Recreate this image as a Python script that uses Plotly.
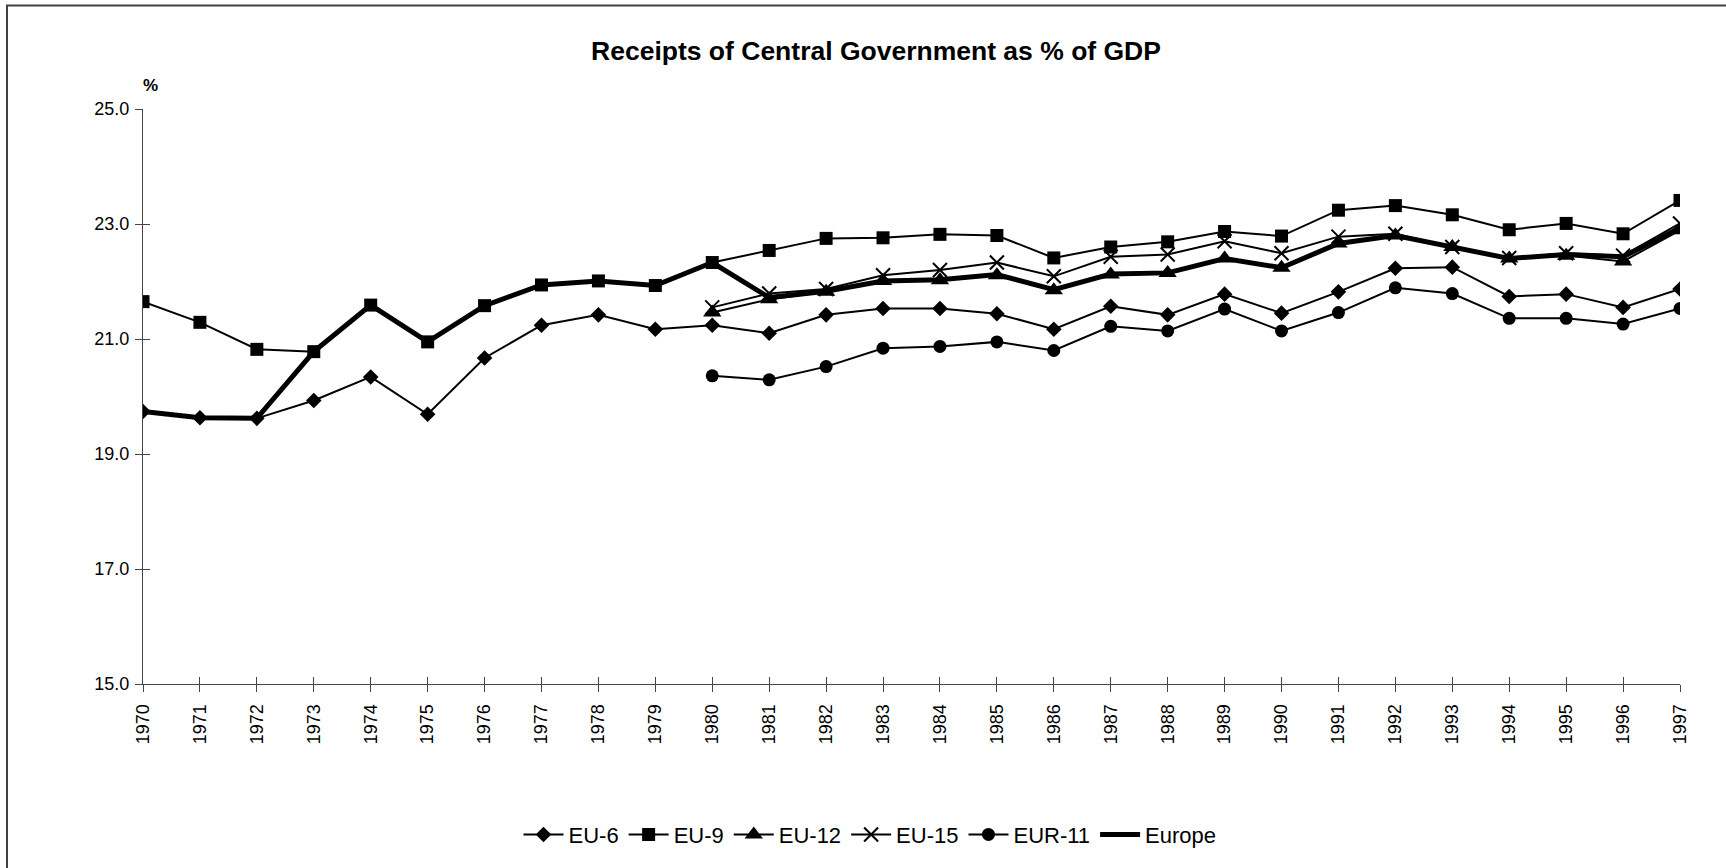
import plotly.graph_objects as go

years = list(range(1970, 1998))
years_80 = list(range(1980, 1998))
tick_labels = [str(y) for y in years]

eu6 = [19.74, 19.63, 19.62, 19.93, 20.34, 19.69, 20.67, 21.24, 21.42, 21.17,
       21.24, 21.10, 21.42, 21.53, 21.53, 21.44, 21.17, 21.57, 21.42, 21.78,
       21.45, 21.82, 22.23, 22.25, 21.74, 21.78, 21.55, 21.87]
eu9 = [21.65, 21.29, 20.82, 20.78, 21.59, 20.95, 21.58, 21.94, 22.01, 21.93,
       22.33, 22.54, 22.75, 22.76, 22.82, 22.80, 22.41, 22.60, 22.69, 22.87,
       22.79, 23.24, 23.32, 23.16, 22.90, 23.01, 22.83, 23.41]
eu12 = [21.46, 21.69, 21.82, 22.01, 22.02, 22.11, 21.85, 22.12, 22.15, 22.40,
        22.24, 22.66, 22.80, 22.60, 22.40, 22.45, 22.35, 22.89]
eu15 = [21.55, 21.79, 21.87, 22.11, 22.20, 22.33, 22.09, 22.43, 22.47, 22.70,
        22.49, 22.78, 22.83, 22.60, 22.41, 22.49, 22.45, 23.01]
eur11 = [20.36, 20.29, 20.52, 20.84, 20.87, 20.95, 20.80, 21.22, 21.14, 21.52,
         21.14, 21.46, 21.89, 21.79, 21.36, 21.36, 21.26, 21.53]
europe = [19.74, 19.63, 19.62, 20.78, 21.59, 20.95, 21.58, 21.94, 22.01, 21.93,
          22.33, 21.72, 21.83, 22.01, 22.03, 22.12, 21.86, 22.13, 22.15, 22.40,
          22.24, 22.66, 22.80, 22.60, 22.40, 22.47, 22.43, 22.93]

FONT = "Liberation Sans, Arial, sans-serif"
BLACK = "#000000"

fig = go.Figure()

def add(name, x, y, symbol, size, lw=2, mline=0):
    fig.add_trace(go.Scatter(
        x=x, y=y, name=name, mode="lines+markers",
        line=dict(color=BLACK, width=lw),
        marker=dict(symbol=symbol, size=size, color=BLACK,
                    line=dict(color=BLACK, width=mline)),
    ))

add("EU-6", years, eu6, "diamond", 12)
add("EU-9", years, eu9, "square", 13)
add("EU-12", years_80, eu12, "triangle-up", 16)
add("EU-15", years_80, eu15, "x-thin-open", 14, mline=2)
add("EUR-11", years_80, eur11, "circle", 13)
fig.add_trace(go.Scatter(x=years, y=europe, name="Europe", mode="lines",
                         line=dict(color=BLACK, width=5)))

# invisible trace to anchor the overlay axes (inside half of cross ticks)
fig.add_trace(go.Scatter(x=[years[0]], y=[15], xaxis="x2", yaxis="y2",
                         mode="markers", marker=dict(opacity=0),
                         showlegend=False, hoverinfo="skip"))

axis_col = "#444444"
fig.update_layout(
    width=1726, height=868,
    paper_bgcolor="white", plot_bgcolor="white",
    margin=dict(l=143, r=46, t=109, b=181),
    font=dict(family=FONT, color=BLACK, size=18),
    title=dict(text="<b>Receipts of Central Government as % of GDP</b>",
               x=876 / 1726, xanchor="center", y=1 - 51 / 868, yanchor="middle",
               font=dict(size=26.5, family=FONT, color=BLACK)),
    showlegend=True,
    legend=dict(orientation="h", x=0.473, xanchor="center", y=-0.262, yanchor="middle",
                font=dict(size=22, family=FONT, color=BLACK),
                bgcolor="rgba(0,0,0,0)", itemwidth=40, tracegroupgap=0),
    xaxis=dict(range=[1970, 1997], tickmode="array", tickvals=years, ticktext=tick_labels,
               tickangle=-90, ticks="outside", ticklen=7, tickcolor=axis_col, tickwidth=1,
               showline=True, linecolor=axis_col, linewidth=1, showgrid=False,
               zeroline=False, tickfont=dict(size=18, family=FONT, color=BLACK),
               ticklabelstandoff=5),
    yaxis=dict(range=[15, 25], tickmode="array", tickvals=[15, 17, 19, 21, 23, 25],
               ticktext=["15.0", "17.0", "19.0", "21.0", "23.0", "25.0"],
               ticks="outside", ticklen=7, tickcolor=axis_col, tickwidth=1,
               showline=True, linecolor=axis_col, linewidth=1, showgrid=False,
               zeroline=False, tickfont=dict(size=18, family=FONT, color=BLACK),
               ticklabelstandoff=2),
    xaxis2=dict(range=[1970, 1997], overlaying="x", anchor="y2", tickmode="array",
                tickvals=years, ticks="inside", ticklen=7, tickcolor=axis_col,
                showticklabels=False, showline=False, showgrid=False, zeroline=False,
                side="bottom"),
    yaxis2=dict(range=[15, 25], overlaying="y", anchor="x2", tickmode="array",
                tickvals=[15, 17, 19, 21, 23, 25], ticks="inside", ticklen=7,
                tickcolor=axis_col, showticklabels=False, showline=False,
                showgrid=False, zeroline=False, side="left"),
    annotations=[dict(text="<b>%</b>", xref="paper", yref="paper",
                      x=(150 - 143) / 1537, y=(686.7 - 85) / 577.7,
                      xanchor="center", yanchor="middle", showarrow=False,
                      font=dict(size=17, family=FONT, color=BLACK))],
    shapes=[dict(type="rect", xref="paper", yref="paper",
                 x0=(7 - 143) / 1537, x1=1.2, y0=-0.5, y1=(686.7 - 5) / 577.7,
                 line=dict(color="#404040", width=2), fillcolor="rgba(0,0,0,0)",
                 layer="below")],
)

fig.write_html("out.html", config={"displayModeBar": False},
               post_script="document.body.style.margin='0';")
